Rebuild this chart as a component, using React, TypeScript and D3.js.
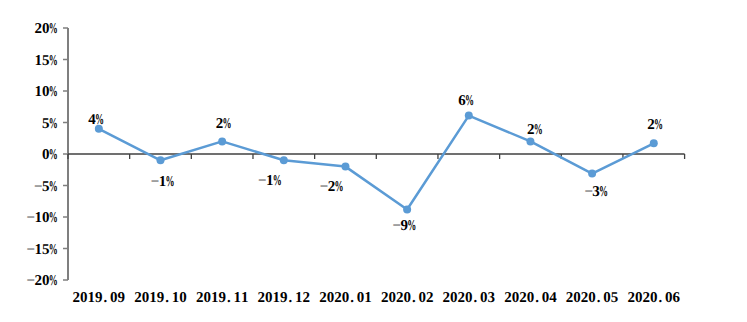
import React from "react";
import * as d3 from "d3";

const categories = ["2019.09", "2019.10", "2019.11", "2019.12", "2020.01", "2020.02", "2020.03", "2020.04", "2020.05", "2020.06"];
const values = [4.0, -1.0, 2.0, -1.0, -2.0, -8.8, 6.1, 2.0, -3.1, 1.7];
const valueLabels = ["4%", "\u22121%", "2%", "\u22121%", "\u22122%", "\u22129%", "6%", "2%", "\u22123%", "2%"];
const yTicks = [20, 15, 10, 5, 0, -5, -10, -15, -20];
// label offsets relative to the point (manual placement in the original)
const labelDx = [-3, 2, 1, -14, -14, -3, -3, 4, 4, 1];
const labelDy = [-10, 20, -19, 19, 19, 15, -16, -13, 17, -20];

const W = 747, H = 322;
const FONT = "'Liberation Serif', 'DejaVu Serif', serif";
const CH = 7.5; // monospace advance

function Mono({ x, y, text, anchor = "middle" }: { x: number; y: number; text: string; anchor?: string }) {
  const len = text.length * CH;
  let x0 = x - len / 2;
  if (anchor === "end") x0 = x - len;
  const chars = Array.from(text);
  return (
    <g fontFamily={FONT} fontSize={15} fontWeight="bold" fill="#000" style={{ textRendering: "geometricPrecision" }}>
      <title>{text}</title>
      {chars.map((ch, i) => {
        const c = x0 + i * CH + CH / 2;
        if (ch === "%") {
          return (
            <text key={i} x={c - 4.5} y={y} dy="0.35em" textLength={9} lengthAdjust="spacingAndGlyphs">{ch}</text>
          );
        }
        if (ch === "\u2212") {
          return (
            <text key={i} x={c} y={y} dy="0.35em" textAnchor="middle" fontWeight="normal">{ch}</text>
          );
        }
        if (ch === ".") {
          return <text key={i} x={x0 + i * CH + 1} y={y} dy="0.35em">{ch}</text>;
        }
        return <text key={i} x={c} y={y} dy="0.35em" textAnchor="middle">{ch}</text>;
      })}
    </g>
  );
}

export default function App() {
  const x = d3.scaleBand<string>().domain(categories).range([68, 684.6]);
  const y = d3.scaleLinear().domain([-20, 20]).range([280, 28]);
  const cx = (c: string) => (x(c) as number) + x.bandwidth() / 2;
  const line = d3.line<number>().x((_, i) => cx(categories[i])).y((d) => y(d));
  const boundaries = categories.map((c) => x(c) as number).concat([684.6]);

  return (
    <svg width={W} height={H} style={{ position: "absolute", left: 0, top: 0, background: "#fff" }}>
      {/* y axis */}
      <line x1={68} x2={68} y1={y(20)} y2={y(-20)} stroke="#7f7f7f" strokeWidth={2} />
      {yTicks.map((t) => (
        <g key={t}>
          <line x1={63} x2={68} y1={y(t)} y2={y(t)} stroke="#7f7f7f" strokeWidth={1.5} />
          <Mono x={57} y={y(t)} text={`${t < 0 ? "\u2212" : ""}${Math.abs(t)}%`} anchor="end" />
        </g>
      ))}
      {/* x axis at 0 */}
      <line x1={68} x2={684.6} y1={y(0)} y2={y(0)} stroke="#404040" strokeWidth={1.3} />
      {boundaries.map((b, i) => (
        <line key={i} x1={b} x2={b} y1={y(0)} y2={y(0) + 5} stroke="#404040" strokeWidth={1.3} />
      ))}
      {categories.map((c) => (
        <Mono key={c} x={cx(c)} y={297} text={c} />
      ))}
      <path d={line(values) || ""} fill="none" stroke="#5b9bd5" strokeWidth={2.5} strokeLinejoin="round" />
      {values.map((v, i) => (
        <circle key={i} cx={cx(categories[i])} cy={y(v)} r={4} fill="#5b9bd5" />
      ))}
      {values.map((v, i) => (
        <Mono key={"l" + i} x={cx(categories[i]) + labelDx[i]} y={y(v) + labelDy[i]} text={valueLabels[i]} />
      ))}
    </svg>
  );
}
